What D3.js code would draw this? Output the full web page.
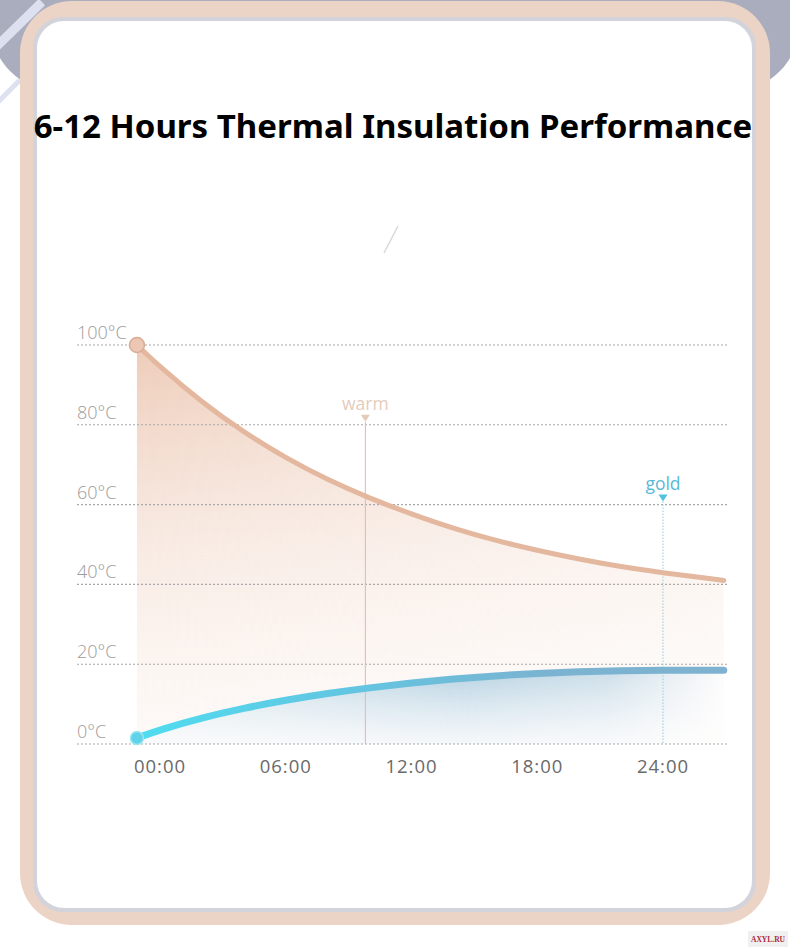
<!DOCTYPE html>
<html><head><meta charset="utf-8">
<script src="https://cdn.jsdelivr.net/npm/d3@7"></script>
<style>html,body{margin:0;padding:0;background:#fff;} svg{display:block;}</style>
</head><body><svg id="c" width="790" height="952"></svg>
<script>
const title = "6-12 Hours Thermal Insulation Performance";
const hours = [-1.1, 0, 2, 4, 6, 8, 10, 12, 14, 16, 18, 20, 22, 24, 26, 26.9];
const hotTemps = [100, 94.5, 85.6, 78.1, 71.7, 66.2, 61.6, 57.6, 54.0, 51.0, 48.5, 46.3, 44.4, 42.9, 41.6, 41.0];
const coldTemps = [1.5, 3.6, 6.6, 9.0, 11.0, 12.7, 14.1, 15.3, 16.3, 17.1, 17.7, 18.1, 18.4, 18.5, 18.5, 18.5];
const yTicks = [0, 20, 40, 60, 80, 100];
const yTickLabels = ["0°C", "20°C", "40°C", "60°C", "80°C", "100°C"];
const xTicks = [0, 6, 12, 18, 24];
const xTickLabels = ["00:00", "06:00", "12:00", "18:00", "24:00"];
const markerLabels = ["warm", "gold"];
const markerHours = [9.8, 24];
const markerTemps = [80, 60];

const svg = d3.select("#c");
const defs = svg.append("defs");

// background device shape (gray)
svg.append("rect").attr("x", -10).attr("y", -200).attr("width", 810).attr("height", 292)
  .attr("rx", 70).attr("fill", "#a9adbe");
svg.append("line").attr("x1", -5).attr("y1", 48).attr("x2", 42).attr("y2", 2)
  .attr("stroke", "#dde0ee").attr("stroke-width", 9);
svg.append("line").attr("x1", -5).attr("y1", 105).attr("x2", 20).attr("y2", 80)
  .attr("stroke", "#dde0ee").attr("stroke-width", 5);

// frame
svg.append("rect").attr("x", 20).attr("y", 1).attr("width", 750).attr("height", 924)
  .attr("rx", 52).attr("fill", "#ebd3c6");
svg.append("rect").attr("x", 33).attr("y", 17).attr("width", 723).attr("height", 895)
  .attr("rx", 30).attr("fill", "#d3d3db");
svg.append("rect").attr("x", 37).attr("y", 21).attr("width", 715).attr("height", 887)
  .attr("rx", 27).attr("fill", "#ffffff");

// title
const t = svg.append("text").attr("x", 393).attr("y", 138).attr("text-anchor", "middle")
  .attr("font-family", "'Noto Sans', 'Open Sans', sans-serif").attr("font-weight", 700)
  .attr("font-size", 32).attr("fill", "#000").text(title);
const w = t.node().getComputedTextLength();
t.attr("font-size", 32 * 719 / w);

// slash decoration
svg.append("line").attr("x1", 398).attr("y1", 226).attr("x2", 384).attr("y2", 253)
  .attr("stroke", "#d8d8d8").attr("stroke-width", 1.5);

// scales
const x = d3.scaleLinear().domain([0, 24]).range([160, 663]);
const y = d3.scaleLinear().domain([0, 100]).range([744, 345]);
const gridX0 = 77, gridX1 = 727;

const data = hours.map((h, i) => ({h, hot: hotTemps[i], cold: coldTemps[i]}));

// gradients
const gHot = defs.append("linearGradient").attr("id", "gHot").attr("gradientUnits", "userSpaceOnUse")
  .attr("x1", 0).attr("y1", y(100)).attr("x2", 0).attr("y2", y(0));
gHot.append("stop").attr("offset", 0).attr("stop-color", "#ecc6b1").attr("stop-opacity", 0.9);
gHot.append("stop").attr("offset", 0.5).attr("stop-color", "#f4dfd3").attr("stop-opacity", 0.65);
gHot.append("stop").attr("offset", 1).attr("stop-color", "#fcf4ef").attr("stop-opacity", 0.45);

const mHotG = defs.append("linearGradient").attr("id", "mHotG").attr("gradientUnits", "userSpaceOnUse")
  .attr("x1", x(hours[0])).attr("y1", 0).attr("x2", gridX1).attr("y2", 0);
mHotG.append("stop").attr("offset", 0).attr("stop-color", "#fff").attr("stop-opacity", 1);
mHotG.append("stop").attr("offset", 1).attr("stop-color", "#fff").attr("stop-opacity", 0.5);
defs.append("mask").attr("id", "mHot").append("rect").attr("x", 0).attr("y", 0)
  .attr("width", 790).attr("height", 952).attr("fill", "url(#mHotG)");

const gCold = defs.append("linearGradient").attr("id", "gCold").attr("gradientUnits", "userSpaceOnUse")
  .attr("x1", 0).attr("y1", y(19)).attr("x2", 0).attr("y2", y(0));
gCold.append("stop").attr("offset", 0).attr("stop-color", "#b3cfe0").attr("stop-opacity", 1);
gCold.append("stop").attr("offset", 1).attr("stop-color", "#eef4f8").attr("stop-opacity", 0.6);

const mColdG = defs.append("linearGradient").attr("id", "mColdG").attr("gradientUnits", "userSpaceOnUse")
  .attr("x1", x(hours[0])).attr("y1", 0).attr("x2", gridX1).attr("y2", 0);
mColdG.append("stop").attr("offset", 0).attr("stop-color", "#fff").attr("stop-opacity", 0.45);
mColdG.append("stop").attr("offset", 0.55).attr("stop-color", "#fff").attr("stop-opacity", 1);
mColdG.append("stop").attr("offset", 0.8).attr("stop-color", "#fff").attr("stop-opacity", 0.7);
mColdG.append("stop").attr("offset", 1).attr("stop-color", "#fff").attr("stop-opacity", 0);
defs.append("mask").attr("id", "mCold").append("rect").attr("x", 0).attr("y", 0)
  .attr("width", 790).attr("height", 952).attr("fill", "url(#mColdG)");

const gColdLine = defs.append("linearGradient").attr("id", "gColdLine").attr("gradientUnits", "userSpaceOnUse")
  .attr("x1", x(hours[0])).attr("y1", 0).attr("x2", x(hours[hours.length - 1])).attr("y2", 0);
gColdLine.append("stop").attr("offset", 0).attr("stop-color", "#4fdcef");
gColdLine.append("stop").attr("offset", 0.35).attr("stop-color", "#62c6e2");
gColdLine.append("stop").attr("offset", 0.7).attr("stop-color", "#7ab3d1");
gColdLine.append("stop").attr("offset", 1).attr("stop-color", "#7eb2d0");

// areas
const curve = d3.curveBasis;
svg.append("path").datum(data)
  .attr("d", d3.area().curve(curve).x(d => x(d.h)).y0(y(0)).y1(d => y(d.hot)))
  .attr("fill", "url(#gHot)").attr("mask", "url(#mHot)");
svg.append("path").datum(data)
  .attr("d", d3.area().curve(curve).x(d => x(d.h)).y0(y(0)).y1(d => y(d.cold)))
  .attr("fill", "#ffffff").attr("opacity", 0.6);
svg.append("path").datum(data)
  .attr("d", d3.area().curve(curve).x(d => x(d.h)).y0(y(0)).y1(d => y(d.cold)))
  .attr("fill", "url(#gCold)").attr("mask", "url(#mCold)");

// gridlines
svg.append("g").selectAll("line").data(yTicks).join("line")
  .attr("x1", gridX0).attr("x2", gridX1).attr("y1", d => y(d)).attr("y2", d => y(d))
  .attr("stroke", "#a8a8a8").attr("stroke-width", 1.1).attr("stroke-dasharray", "2,2");

// y labels
svg.append("g").selectAll("text").data(yTicks).join("text")
  .attr("x", gridX0).attr("y", d => y(d) - 6)
  .attr("font-family", "'Open Sans', 'Noto Sans', sans-serif").attr("font-weight", 300)
  .attr("font-size", 18).attr("fill", "#9c9c9c").text((d, i) => yTickLabels[i]);

// x labels
svg.append("g").selectAll("text").data(xTicks).join("text")
  .attr("x", d => x(d)).attr("y", 773).attr("text-anchor", "middle")
  .attr("font-family", "'Open Sans', 'Noto Sans', sans-serif").attr("font-weight", 400)
  .attr("font-size", 18.5).attr("letter-spacing", 1).attr("fill", "#6a6a6a")
  .text((d, i) => xTickLabels[i]);

// markers
const mColors = [{line: "#e4bcb6", tri: "#e6cbb8", text: "#e4ccbc", dash: null},
                 {line: "#98d2ea", tri: "#4fc3e0", text: "#58b9d6", dash: "1.5,1.5"}];
markerLabels.forEach((lab, i) => {
  const mx = x(markerHours[i]), my = y(markerTemps[i]) - 3;
  const c = mColors[i];
  const ln = svg.append("line").attr("x1", mx).attr("x2", mx).attr("y1", my).attr("y2", y(0))
    .attr("stroke", c.line).attr("stroke-width", 1.1);
  if (c.dash) ln.attr("stroke-dasharray", c.dash);
  svg.append("path").attr("d", `M${mx - 4.5},${my - 7}L${mx + 4.5},${my - 7}L${mx},${my}Z`).attr("fill", c.tri);
  svg.append("text").attr("x", mx).attr("y", my - 12).attr("text-anchor", "middle")
    .attr("font-family", "'Open Sans', 'Noto Sans', sans-serif").attr("font-size", 17.5)
    .attr("fill", c.text).text(lab);
});

// lines
svg.append("path").datum(data)
  .attr("d", d3.line().curve(curve).x(d => x(d.h)).y(d => y(d.hot)))
  .attr("fill", "none").attr("stroke", "#e4b79f").attr("stroke-width", 5).attr("stroke-linecap", "round");
svg.append("path").datum(data)
  .attr("d", d3.line().curve(curve).x(d => x(d.h)).y(d => y(d.cold)))
  .attr("fill", "none").attr("stroke", "url(#gColdLine)").attr("stroke-width", 7).attr("stroke-linecap", "round");

// start points
svg.append("circle").attr("cx", x(hours[0])).attr("cy", y(hotTemps[0])).attr("r", 7.5)
  .attr("fill", "#ecc8b4").attr("stroke", "#d9ab95").attr("stroke-width", 1.5);
svg.append("circle").attr("cx", x(hours[0])).attr("cy", y(coldTemps[0])).attr("r", 6.5)
  .attr("fill", "#5fd3ea").attr("stroke", "#9ee6f3").attr("stroke-width", 1.5);

// watermark
svg.append("rect").attr("x", 748).attr("y", 931).attr("width", 40).attr("height", 16).attr("fill", "#f0f0f0");
svg.append("text").attr("x", 768).attr("y", 942).attr("text-anchor", "middle")
  .attr("font-family", "'Liberation Serif', serif").attr("font-weight", 700).attr("font-size", 7.5)
  .attr("fill", "#b0283a").text("AXYL.RU");
</script>
</body></html>
